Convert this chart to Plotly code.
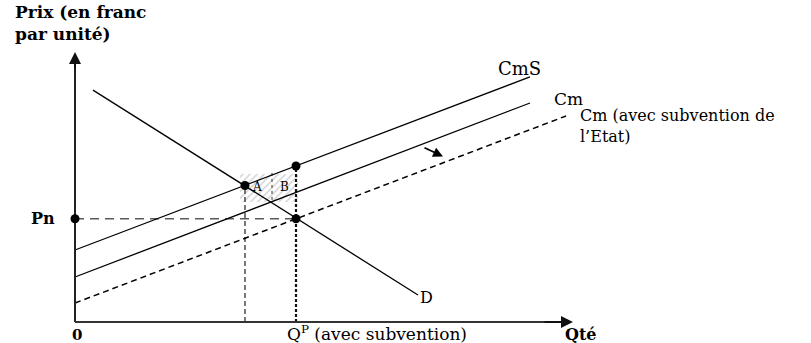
import plotly.graph_objects as go

# Curves (quantity, price) as end points
cms_x = [0, 91]
cms_y = [24, 81.7]
cm_x = [0, 91]
cm_y = [15, 73]
cm_sub_x = [0, 98.2]
cm_sub_y = [6.33, 68.67]
d_x = [3.6, 68.6]
d_y = [77.3, 9]

# Key points
pt_a = (34, 45.5)          # CmS ∩ D
pt_cms_qp = (44.2, 52)     # CmS at Q^P
pt_eq = (44.2, 34.4)       # D ∩ Cm with subsidy
pn_price = 34.4
qp_qty = 44.2
qa_qty = 34

# Hatched zone between A and B
hatch_x = [33, 44.6, 44.6, 33]
hatch_y = [40, 40, 49.3, 49.3]
sep_ab_x = 39.4
sep_ab_y = [40.7, 50.7]

# Axes extent
x_axis_end = 99.6
y_axis_end = 90

SERIF = "DejaVu Serif"

fig = go.Figure()

fig.add_trace(go.Scatter(
    x=hatch_x, y=hatch_y, fill="toself", mode="none",
    fillcolor="rgba(0,0,0,0)",
    fillpattern=dict(shape="/", fgcolor="#a8a8a8", bgcolor="white", size=5, solidity=0.3),
    hoverinfo="skip"))

# Guide lines
fig.add_trace(go.Scatter(x=[0, qp_qty], y=[pn_price, pn_price], mode="lines",
                         line=dict(color="#5a5a5a", width=1.6, dash="9px,6px")))
fig.add_trace(go.Scatter(x=[qa_qty, qa_qty], y=[0, pt_a[1]], mode="lines",
                         line=dict(color="#222", width=1.2, dash="5px,3px")))
fig.add_trace(go.Scatter(x=[qp_qty, qp_qty], y=[0, pt_cms_qp[1]], mode="lines",
                         line=dict(color="#111", width=2.2, dash="3px,2px")))
fig.add_trace(go.Scatter(x=[sep_ab_x, sep_ab_x], y=sep_ab_y, mode="lines",
                         line=dict(color="#333", width=1, dash="3px,3px")))

# Curves
fig.add_trace(go.Scatter(x=cms_x, y=cms_y, mode="lines", line=dict(color="black", width=1.3)))
fig.add_trace(go.Scatter(x=cm_x, y=cm_y, mode="lines", line=dict(color="black", width=1.3)))
fig.add_trace(go.Scatter(x=cm_sub_x, y=cm_sub_y, mode="lines",
                         line=dict(color="black", width=1.5, dash="6px,4px")))
fig.add_trace(go.Scatter(x=d_x, y=d_y, mode="lines", line=dict(color="black", width=1.3)))

# Axes lines
fig.add_trace(go.Scatter(x=[0, 0], y=[0, y_axis_end - 2], mode="lines",
                         line=dict(color="#222", width=2)))
fig.add_trace(go.Scatter(x=[0, x_axis_end - 2], y=[0, 0], mode="lines",
                         line=dict(color="#333", width=2)))

# Points
fig.add_trace(go.Scatter(
    x=[pt_a[0], pt_cms_qp[0], pt_eq[0], 0],
    y=[pt_a[1], pt_cms_qp[1], pt_eq[1], pn_price],
    mode="markers", marker=dict(color="black", size=9)))

# Axis arrowheads
fig.add_annotation(x=0, y=y_axis_end, ax=0, ay=y_axis_end - 6, xref="x", yref="y",
                   axref="x", ayref="y", text="", showarrow=True, arrowhead=2,
                   arrowsize=1.2, arrowwidth=2, arrowcolor="#111")
fig.add_annotation(x=x_axis_end, y=0, ax=x_axis_end - 6, ay=0, xref="x", yref="y",
                   axref="x", ayref="y", text="", showarrow=True, arrowhead=2,
                   arrowsize=1.2, arrowwidth=2, arrowcolor="#111")
# Shift arrow
fig.add_annotation(x=73.6, y=55.2, ax=69.6, ay=58.3, xref="x", yref="y",
                   axref="x", ayref="y", text="", showarrow=True, arrowhead=2,
                   arrowsize=1.1, arrowwidth=1.8, arrowcolor="black")

def label(x, y, text, size=17, bold=False, anchor="left"):
    fig.add_annotation(x=x, y=y, xref="x", yref="y", text=f"<b>{text}</b>" if bold else text,
                       showarrow=False, xanchor=anchor, yanchor="middle", align="left",
                       font=dict(family=SERIF, size=size, color="black"))

label(84.2, 84.6, "CmS", size=18)
label(95.4, 74.3, "Cm")
label(100.6, 65.2, "Cm (avec subvention de<br>l’Etat)", size=16)
label(-9.2, pn_price, "Pn", size=16, bold=True)
label(0.4, -4.3, "0", size=15, bold=True, anchor="center")
label(42.0, -3.8, "Q<sup>P</sup> (avec subvention)")
label(97.6, -4.3, "Qté", size=16, bold=True)
label(68.6, 8.3, "D", size=16)
label(36.3, 45.0, "A", size=12, anchor="center")
label(41.9, 45.0, "B", size=12, anchor="center")

fig.add_annotation(x=-12.4, y=107.3, xref="x", yref="y",
                   text="<b>Prix (en franc</b><br><b>par unité)</b>",
                   showarrow=False, xanchor="left", yanchor="top", align="left",
                   font=dict(family=SERIF, size=17, color="black"))

fig.update_layout(
    width=811, height=343, margin=dict(l=0, r=0, t=0, b=0),
    paper_bgcolor="white", plot_bgcolor="white", showlegend=False,
    xaxis=dict(range=[-15, 147.2], visible=False, fixedrange=True),
    yaxis=dict(range=[-7, 107.33], visible=False, fixedrange=True),
)

fig.write_html("out.html")
